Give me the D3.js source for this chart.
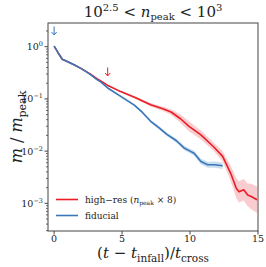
<!DOCTYPE html>
<head>
  <meta charset="utf-8">
  <script src="https://d3js.org/d3.v7.min.js"></script>
  <style>
    body { margin: 0; background: #fff; }
    svg text { font-family: "DejaVu Serif", "Liberation Serif", serif; }
  </style>
</head>
<body>
  <svg width="266" height="267"></svg>
  <script>
    // fiducial run
    var blueT = [0, 0.3, 0.6, 1.0, 1.5, 2.0, 2.65, 3.15, 3.4, 4.0, 4.9, 5.9, 6.5, 7.1, 7.7, 8.3, 9.0, 9.56, 10.0, 10.3, 10.8, 11.3, 11.8, 12.4];
    var blueM = [1.023, 0.759, 0.575, 0.513, 0.447, 0.380, 0.295, 0.234, 0.214, 0.158, 0.112, 0.0759, 0.0550, 0.0372, 0.0282, 0.0209, 0.0158, 0.0115, 0.0100, 0.00912, 0.00631, 0.00550, 0.00550, 0.00525];
    var blueErr = [1.02, 1.02, 1.02, 1.02, 1.02, 1.02, 1.02, 1.02, 1.03, 1.03, 1.04, 1.05, 1.06, 1.07, 1.08, 1.08, 1.09, 1.1, 1.11, 1.12, 1.13, 1.14, 1.15, 1.15];

    // high-res run
    var redT = [0, 0.3, 0.6, 1.0, 1.5, 2.0, 2.65, 3.15, 3.4, 4.0, 4.9, 6.0, 7.1, 8.0, 8.6, 9.3, 9.9, 10.8, 11.75, 12.4, 13.0, 13.4, 13.6, 13.95, 14.24, 14.5, 14.93];
    var redM = [1.023, 0.759, 0.575, 0.513, 0.447, 0.380, 0.302, 0.245, 0.224, 0.178, 0.138, 0.105, 0.0776, 0.0646, 0.0562, 0.0417, 0.0302, 0.0204, 0.0120, 0.00794, 0.00372, 0.00195, 0.00166, 0.00182, 0.00145, 0.00135, 0.00117];
    var redErr = [1.02, 1.02, 1.02, 1.02, 1.02, 1.02, 1.02, 1.02, 1.02, 1.03, 1.04, 1.05, 1.08, 1.1, 1.13, 1.2, 1.25, 1.22, 1.2, 1.25, 1.4, 1.55, 1.6, 1.6, 1.65, 1.75, 1.8];

    // infall arrows: [t, m at arrow tip]
    var blueArrow = [0, 1.68];
    var redArrow = [3.94, 0.275];

    var xTicks = [0, 5, 10, 15];
    var yTicks = [1, 0.1, 0.01, 0.001];
    var yTickExp = ["0", "\u22121", "\u22122", "\u22123"];

    var svg = d3.select("svg");
    var margin = { top: 23, right: 8, bottom: 36, left: 48 };
    var width = +svg.attr("width") - margin.left - margin.right;
    var height = +svg.attr("height") - margin.top - margin.bottom;

    var x = d3.scaleLinear().domain([-0.45, 15.0]).range([0, width]);
    var y = d3.scaleLog().domain([Math.pow(10, -3.53), Math.pow(10, 0.454)]).range([height, 0]);

    var g = svg.append("g")
      .attr("transform", "translate(" + margin.left + "," + margin.top + ")");

    var blue = blueT.map(function (t, i) { return { t: t, m: blueM[i], e: blueErr[i] }; });
    var red = redT.map(function (t, i) { return { t: t, m: redM[i], e: redErr[i] }; });

    var band = d3.area()
      .x(function (d) { return x(d.t); })
      .y0(function (d) { return y(d.m / d.e); })
      .y1(function (d) { return y(d.m * d.e); });
    var line = d3.line()
      .x(function (d) { return x(d.t); })
      .y(function (d) { return y(d.m); });

    g.append("path").datum(red).attr("d", band).attr("fill", "#f4a3a8").attr("fill-opacity", 0.55);
    g.append("path").datum(blue).attr("d", band).attr("fill", "#a9c8e6").attr("fill-opacity", 0.6);
    g.append("path").datum(red).attr("d", line)
      .attr("fill", "none").attr("stroke", "#ec1c24").attr("stroke-width", 1.6).attr("stroke-linejoin", "round");
    g.append("path").datum(blue).attr("d", line)
      .attr("fill", "none").attr("stroke", "#3a76b8").attr("stroke-width", 1.6).attr("stroke-linejoin", "round");

    // arrows
    function arrow(a, col) {
      var ax = x(a[0]), ay = y(a[1]);
      g.append("path")
        .attr("d", "M" + ax + "," + (ay - 8.5) + "V" + ay + "M" + (ax - 2.6) + "," + (ay - 3) + "L" + ax + "," + ay + "L" + (ax + 2.6) + "," + (ay - 3))
        .attr("fill", "none").attr("stroke", col).attr("stroke-width", 1);
    }
    arrow(blueArrow, "#3a76b8");
    arrow(redArrow, "#ec1c24");

    // frame
    g.append("rect").attr("width", width).attr("height", height)
      .attr("fill", "none").attr("stroke", "#444").attr("stroke-width", 1);

    // x axis
    var xa = g.append("g").attr("transform", "translate(0," + height + ")");
    xTicks.forEach(function (t) {
      xa.append("line").attr("x1", x(t)).attr("x2", x(t)).attr("y1", 0).attr("y2", 3.5).attr("stroke", "#444");
      xa.append("text").attr("x", x(t)).attr("y", 10.5).attr("text-anchor", "middle")
        .attr("font-size", 9.5).attr("fill", "#222").text(t);
    });

    // y axis with minor ticks
    var ya = g.append("g");
    yTicks.forEach(function (v, i) {
      ya.append("line").attr("x1", -3.5).attr("x2", 0).attr("y1", y(v)).attr("y2", y(v)).attr("stroke", "#444");
      var tx = ya.append("text").attr("x", -5).attr("y", y(v) + 3.5).attr("text-anchor", "end")
        .attr("font-size", 9.5).attr("fill", "#222");
      tx.append("tspan").text("10");
      tx.append("tspan").attr("dy", -4).attr("font-size", 6.5).text(yTickExp[i]);
      for (var k = 2; k <= 9; k++) {
        var mv = v * k;
        if (mv <= y.domain()[1]) {
          ya.append("line").attr("x1", -2).attr("x2", 0).attr("y1", y(mv)).attr("y2", y(mv)).attr("stroke", "#444").attr("stroke-width", 0.8);
        }
      }
      var mv0 = v / 10;
      for (var j = 2; j <= 9; j++) {
        if (i === yTicks.length - 1 && mv0 * j >= y.domain()[0]) {
          ya.append("line").attr("x1", -2).attr("x2", 0).attr("y1", y(mv0 * j)).attr("y2", y(mv0 * j)).attr("stroke", "#444").attr("stroke-width", 0.8);
        }
      }
    });

    // title
    var title = svg.append("text").attr("x", 153).attr("y", 17).attr("text-anchor", "middle")
      .attr("font-size", 15).attr("fill", "#222");
    title.append("tspan").text("10");
    title.append("tspan").attr("dy", -6).attr("font-size", 10).text("2.5");
    title.append("tspan").attr("dy", 6).text(" < ");
    title.append("tspan").attr("font-style", "italic").text("n");
    title.append("tspan").attr("dy", 3).attr("font-size", 10).text("peak");
    title.append("tspan").attr("dy", -3).text(" < 10");
    title.append("tspan").attr("dy", -6).attr("font-size", 10).text("3");

    // y label
    var yl = svg.append("text").attr("transform", "translate(22," + (margin.top + height / 2) + ") rotate(-90)")
      .attr("text-anchor", "middle").attr("font-size", 16).attr("fill", "#222");
    yl.append("tspan").attr("font-style", "italic").text("m");
    yl.append("tspan").text(" / ");
    yl.append("tspan").attr("font-style", "italic").text("m");
    yl.append("tspan").attr("dy", 3.5).attr("font-size", 11).text("peak");

    // x label
    var xl = svg.append("text").attr("x", 153).attr("y", 258).attr("text-anchor", "middle")
      .attr("font-size", 15).attr("fill", "#222");
    xl.append("tspan").text("(");
    xl.append("tspan").attr("font-style", "italic").text("t");
    xl.append("tspan").text(" \u2212 ");
    xl.append("tspan").attr("font-style", "italic").text("t");
    xl.append("tspan").attr("dy", 3.5).attr("font-size", 10.5).text("infall");
    xl.append("tspan").attr("dy", -3.5).text(")/");
    xl.append("tspan").attr("font-style", "italic").text("t");
    xl.append("tspan").attr("dy", 3.5).attr("font-size", 10.5).text("cross");

    // legend
    var lg = svg.append("g").attr("transform", "translate(56,199.5)");
    lg.append("line").attr("x1", 0).attr("x2", 22).attr("y1", 0).attr("y2", 0).attr("stroke", "#ec1c24").attr("stroke-width", 1.6);
    lg.append("line").attr("x1", 0).attr("x2", 22).attr("y1", 16).attr("y2", 16).attr("stroke", "#3a76b8").attr("stroke-width", 1.6);
    var l1 = lg.append("text").attr("x", 29).attr("y", 3.5).attr("font-size", 9).attr("fill", "#222");
    l1.append("tspan").text("high\u2212res (");
    l1.append("tspan").attr("font-style", "italic").text("n");
    l1.append("tspan").attr("dy", 2).attr("font-size", 6).text("peak");
    l1.append("tspan").attr("dy", -2).text(" \u00d7 8)");
    lg.append("text").attr("x", 29).attr("y", 19.5).attr("font-size", 9).attr("fill", "#222").text("fiducial");
  </script>
</body>
